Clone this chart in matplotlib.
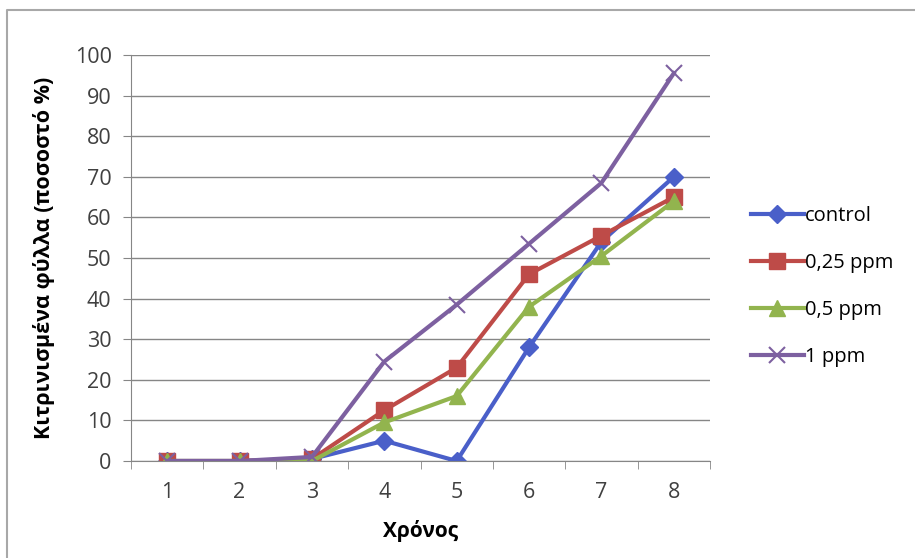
import matplotlib.pyplot as plt
from matplotlib.lines import Line2D

plt.rcParams['font.family'] = ['Open Sans', 'DejaVu Sans']

# data
days = ['1', '2', '3', '4', '5', '6', '7', '8']
control = [0, 0, 0.5, 5, 0, 28, 54, 70]
ppm025 = [0, 0, 0.5, 12.5, 23, 46, 55.5, 65]
ppm05 = [0, 0, 0, 9.5, 16, 38, 50.5, 64]
ppm1 = [0, 0, 1, 24.5, 38.5, 53.5, 68.5, 95.5]

fig = plt.figure(figsize=(9.15, 5.58), dpi=100)
ax = fig.add_axes([131 / 915, 1 - 461 / 558, (710 - 131) / 915, (461 - 55) / 558])

x = list(range(len(days)))
ax.plot(x, control, color='#4a5fc9', lw=3, marker='D', ms=9, label='control')
ax.plot(x, ppm025, color='#be4b48', lw=3, marker='s', ms=12, label='0,25 ppm')
ax.plot(x, ppm05, color='#92b44e', lw=3, marker='^', ms=12, label='0,5 ppm')
ax.plot(x, ppm1, color='#7d60a0', lw=3, marker='x', ms=12, mew=1.5, label='1 ppm')

ax.set_xlim(-0.5, len(days) - 0.5)
ax.set_ylim(0, 100)
ax.set_yticks(range(0, 101, 10))
ax.set_xticks(x)
ax.set_xticklabels(days)
ax.set_xticks([i - 0.5 for i in range(len(days) + 1)], minor=True)
ax.tick_params(axis='x', which='major', length=0, labelsize=15.5, pad=15, colors='#404040')
ax.tick_params(axis='x', which='minor', length=6, direction='out', color='#868686')
ax.tick_params(axis='y', length=6, pad=8, direction='out', labelsize=15.5, color='#868686',
               labelcolor='#404040')
ax.grid(axis='y', color='#868686', lw=1)
ax.set_axisbelow(True)
for s in ['top', 'right']:
    ax.spines[s].set_visible(False)
for s in ['left', 'bottom']:
    ax.spines[s].set_color('#868686')

ax.set_xlabel('Χρόνος', fontsize=15, fontweight='bold', labelpad=12)
ax.set_ylabel('Κιτρινισμένα φύλλα (ποσοστό %)', fontsize=15.5, fontweight='bold', labelpad=14)

leg = ax.legend(loc='center left', bbox_to_anchor=(1.04, 0.43), frameon=False,
                fontsize=14.5, handlelength=2.6, handletextpad=0.05, labelspacing=1.35)

# outer chart frame
fig.add_artist(Line2D([7 / 915, 7 / 915, 1], [0, 1 - 10 / 558, 1 - 10 / 558],
                      color='#a8a8a8', lw=1.5, transform=fig.transFigure))

fig.savefig('out.png', dpi=100)
